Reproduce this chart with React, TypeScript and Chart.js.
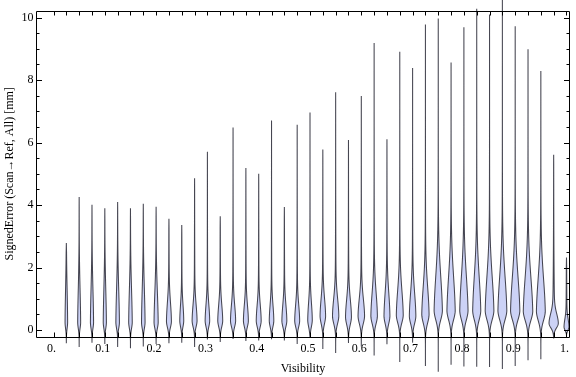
import React, { useEffect, useRef } from "react";
import { Chart, registerables } from "chart.js";

Chart.register(...registerables);

// ---- data ----
const visibility = [
  0.025, 0.05, 0.075, 0.1, 0.125, 0.15, 0.175, 0.2, 0.225, 0.25,
  0.275, 0.3, 0.325, 0.35, 0.375, 0.4, 0.425, 0.45, 0.475, 0.5,
  0.525, 0.55, 0.575, 0.6, 0.625, 0.65, 0.675, 0.7, 0.725, 0.75,
  0.775, 0.8, 0.825, 0.85, 0.875, 0.9, 0.925, 0.95, 0.975, 1.0,
];

const maxError = [
  2.79, 4.26, 4.01, 3.9, 4.1, 3.9, 4.04, 3.95, 3.56, 3.36,
  4.86, 5.71, 3.64, 6.48, 5.19, 5.0, 6.71, 3.94, 6.57, 6.96,
  5.78, 7.61, 6.08, 7.49, 9.19, 6.11, 8.91, 8.39, 9.78, 9.97,
  8.56, 9.69, 10.28, 10.1, 10.8, 9.72, 8.99, 8.29, 5.61, 2.32,
];

const minError = [
  -0.42, -0.54, -0.4, -0.44, -0.54, -0.58, -0.52, -0.44, -0.42, -0.4,
  -0.54, -0.3, -0.38, -0.28, -0.35, -0.33, -0.29, -0.33, -0.44, -0.24,
  -0.6, -0.73, -0.41, -0.52, -0.81, -0.45, -1.02, -0.4, -1.15, -1.33,
  -1.11, -1.16, -1.17, -1.18, -1.24, -1.15, -0.96, -0.93, -0.27, -0.18,
];

// most frequent error (widest point of each violin)
const modeError = [
  0.25, 0.25, 0.25, 0.25, 0.25, 0.25, 0.25, 0.25, 0.28, 0.3,
  0.3, 0.3, 0.3, 0.3, 0.3, 0.3, 0.3, 0.3, 0.3, 0.32,
  0.45, 0.45, 0.42, 0.45, 0.45, 0.45, 0.48, 0.45, 0.5, 0.62,
  0.62, 0.62, 0.62, 0.62, 0.62, 0.62, 0.6, 0.6, 0.22, 0.1,
];

// relative density at the mode
const peakDensity = [
  1.3, 1.5, 1.6, 1.6, 1.8, 1.8, 1.8, 2.1, 2.5, 2.0,
  2.5, 2.3, 2.5, 2.6, 2.5, 2.5, 2.3, 2.5, 2.5, 2.3,
  2.8, 3.2, 3.0, 3.3, 3.3, 3.0, 3.5, 3.3, 3.7, 4.2,
  4.2, 4.2, 4.1, 4.4, 4.5, 4.7, 4.8, 4.5, 4.7, 2.5,
];

// spread of the density above / below the mode
const upperSpread = [
  1.1, 1.1, 1.1, 1.1, 1.1, 1.1, 1.1, 1.0, 0.6, 0.5,
  0.5, 0.5, 0.5, 0.5, 0.5, 0.5, 0.5, 0.5, 0.5, 0.55,
  0.55, 0.55, 0.55, 0.55, 0.75, 0.75, 0.8, 0.75, 0.9, 1.15,
  1.15, 1.15, 1.15, 1.15, 1.15, 1.15, 1.15, 1.1, 0.3, 0.25,
];

const lowerSpread = [
  0.2, 0.2, 0.2, 0.2, 0.2, 0.2, 0.2, 0.2, 0.2, 0.2,
  0.2, 0.2, 0.2, 0.2, 0.2, 0.2, 0.2, 0.2, 0.2, 0.22,
  0.25, 0.25, 0.25, 0.25, 0.25, 0.25, 0.25, 0.25, 0.28, 0.3,
  0.3, 0.3, 0.3, 0.3, 0.3, 0.3, 0.3, 0.3, 0.15, 0.1,
];

const xTickValues = [0, 0.1, 0.2, 0.3, 0.4, 0.5, 0.6, 0.7, 0.8, 0.9, 1.0];
const yTickValues = [0, 2, 4, 6, 8, 10];

// ---- presentation ----
const X_MIN = -0.0322;
const X_MAX = 1.0048;
const Y_MIN = -0.22;
const Y_MAX = 10.22;
const DENSITY_TO_X = 1 / 518.8; // visibility units per density unit
const FONT = { family: "'Liberation Serif', 'DejaVu Serif', serif", size: 12 };
const FILL = "rgb(204, 210, 246)";
const EDGE = "rgba(60, 60, 72, 0.95)";

function clamp01(v: number) {
  return v < 0 ? 0 : v > 1 ? 1 : v;
}

function halfWidth(i: number, y: number) {
  const peak = modeError[i];
  const d = y - peak;
  let f: number;
  if (d >= 0) {
    const s = upperSpread[i];
    f = 0.75 * Math.exp(-0.5 * (d / s) ** 2) + 0.25 * Math.exp(-d / 1.6);
  } else {
    const s = lowerSpread[i];
    f = 0.92 * Math.exp(-0.5 * (d / s) ** 2) + 0.08 * Math.exp(d / 0.25);
  }
  const edge = clamp01((maxError[i] - y) / 0.3) * clamp01((y - minError[i]) / 0.1);
  return peakDensity[i] * f * edge * DENSITY_TO_X;
}

function violinPoints(i: number) {
  const c = visibility[i];
  const lo = minError[i];
  const hi = maxError[i];
  const ys: number[] = [];
  let y = lo;
  while (y < hi) {
    ys.push(y);
    y += y < modeError[i] + 2.5 ? 0.02 : 0.1;
  }
  ys.push(hi);
  const right = ys.map((v) => ({ x: c + halfWidth(i, v), y: v }));
  const left = ys
    .slice()
    .reverse()
    .map((v) => ({ x: c - halfWidth(i, v), y: v }));
  return [...right, ...left, right[0]];
}

const framePlugin = {
  id: "mmaFrame",
  afterDatasetsDraw(chart: any) {
    const { ctx, chartArea } = chart;
    const { left, right, top, bottom } = chartArea;
    const xs = chart.scales.x;
    const ys = chart.scales.y;
    ctx.save();
    ctx.strokeStyle = "#000";
    ctx.lineWidth = 1;
    ctx.beginPath();
    const L = Math.round(left) - 0.5;
    const R = Math.round(right) + 0.5;
    const T = Math.round(top) + 0.5;
    const B = Math.round(bottom) + 0.5;
    ctx.moveTo(L, T);
    ctx.lineTo(R, T);
    ctx.moveTo(R, T);
    ctx.lineTo(R, B);
    ctx.moveTo(L, B);
    ctx.lineTo(R, B);
    ctx.moveTo(L, T);
    ctx.lineTo(L, B);
    // x frame ticks at 0 and every category
    const xTicks = [0, ...visibility];
    for (const v of xTicks) {
      const px = Math.round(xs.getPixelForValue(v)) + 0.5;
      ctx.moveTo(px, B);
      ctx.lineTo(px, B - 5);
      ctx.moveTo(px, T);
      ctx.lineTo(px, T + 4);
    }
    // y frame ticks, major and minor
    for (let k = 0; k <= 20; k++) {
      const v = k * 0.5;
      const major = yTickValues.includes(v);
      const len = major ? 5.5 : 3;
      const py = Math.round(ys.getPixelForValue(v)) + 0.5;
      ctx.moveTo(L, py);
      ctx.lineTo(L + len, py);
      ctx.moveTo(R, py);
      ctx.lineTo(R - len, py);
    }
    ctx.stroke();
    ctx.restore();
  },
};

export default function App() {
  const ref = useRef<HTMLCanvasElement>(null);

  useEffect(() => {
    document.body.style.margin = "0";
    const datasets = visibility.map((v, i) => ({
      label: `V ${v}`,
      data: violinPoints(i),
      borderColor: EDGE,
      borderWidth: 1.05,
      backgroundColor: FILL,
      fill: "shape",
      pointRadius: 0,
      pointHitRadius: 0,
      // a tiny tension avoids Chart.js' x-monotonic fast path, which
      // would collapse the closed violin outline
      tension: 0.0001,
      capBezierPoints: false,
      clip: false,
    }));

    const chart = new Chart(ref.current as HTMLCanvasElement, {
      type: "line",
      data: { datasets: datasets as any },
      options: {
        animation: false,
        responsive: false,
        events: [],
        layout: { padding: { top: 4, right: 1, left: 0, bottom: 0 } },
        plugins: {
          legend: { display: false },
          tooltip: { enabled: false },
        },
        scales: {
          x: {
            type: "linear",
            min: X_MIN,
            max: X_MAX,
            grid: { display: false, drawTicks: false },
            border: { display: false },
            afterBuildTicks: (s: any) => {
              s.ticks = xTickValues.map((v) => ({ value: v }));
            },
            afterFit: (s: any) => {
              s.height = 40;
            },
            ticks: {
              autoSkip: false,
              maxRotation: 0,
              padding: 5,
              labelOffset: -2,
              color: "#000",
              font: FONT,
              callback: (v: any) => {
                const n = Number(v);
                if (n === 0) return "0.";
                if (n === 1) return "1.";
                return n.toFixed(1);
              },
            },
            title: {
              display: true,
              text: "Visibility",
              color: "#000",
              font: FONT,
              padding: { top: 0, bottom: 1 },
            },
          },
          y: {
            type: "linear",
            min: Y_MIN,
            max: Y_MAX,
            grid: { display: false, drawTicks: false },
            border: { display: false },
            afterBuildTicks: (s: any) => {
              s.ticks = yTickValues.map((v) => ({ value: v }));
            },
            afterFit: (s: any) => {
              s.width = 37;
            },
            ticks: {
              padding: 3.5,
              color: "#000",
              font: FONT,
              callback: (v: any) => String(v),
            },
            title: {
              display: true,
              text: "SignedError (Scan→Ref, All) [mm]",
              color: "#000",
              font: FONT,
              padding: { top: 3, bottom: 0 },
            },
          },
        },
      },
      plugins: [framePlugin],
    });
    return () => chart.destroy();
  }, []);

  return (
    <canvas
      ref={ref}
      width={576}
      height={377}
      style={{ display: "block", width: 576, height: 377 }}
    />
  );
}
